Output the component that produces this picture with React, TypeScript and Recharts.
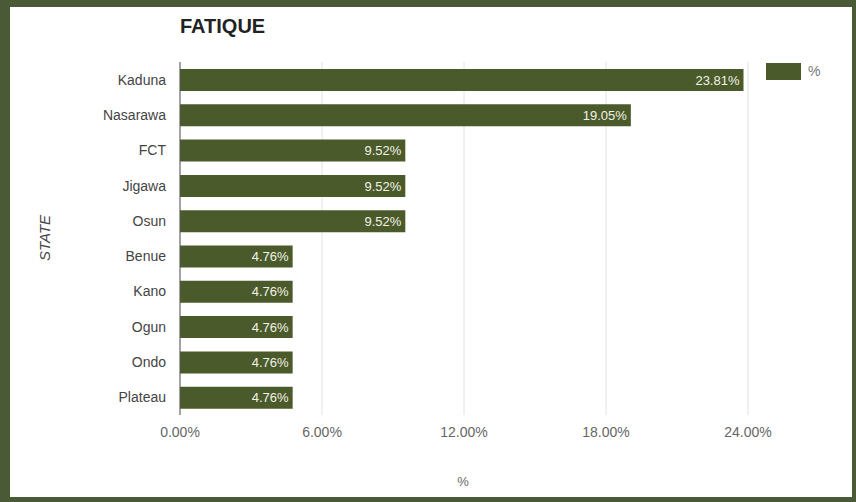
import { BarChart, Bar, XAxis, YAxis, CartesianGrid, LabelList } from 'recharts';

const states = ['Kaduna', 'Nasarawa', 'FCT', 'Jigawa', 'Osun', 'Benue', 'Kano', 'Ogun', 'Ondo', 'Plateau'];
const percents = [23.81, 19.05, 9.52, 9.52, 9.52, 4.76, 4.76, 4.76, 4.76, 4.76];
const xTicks = [0, 6, 12, 18, 24];

const BAR_COLOR = '#4b5a2b';
const BORDER = '#4a5936';
const FONT = 'Arial, "Liberation Sans", sans-serif';

const data = states.map((state, i) => ({ state, pct: percents[i] }));

const fmt = (v: number) => `${Number(v).toFixed(2)}%`;

export default function App() {
  return (
    <div style={{ position: 'absolute', left: 0, top: 0, width: 856, height: 502, background: BORDER, fontFamily: FONT }}>
      {/* white card */}
      <div style={{ position: 'absolute', left: 10, top: 7, width: 842, height: 490, background: '#ffffff' }} />

      <BarChart
        width={856}
        height={502}
        data={data}
        layout="vertical"
        margin={{ top: 62, right: 108, bottom: 0, left: 80 }}
        style={{ position: 'absolute', left: 0, top: 0 }}
      >
        <CartesianGrid horizontal={false} stroke="#e2e2e2" />
        <XAxis
          type="number"
          domain={[0, 24]}
          ticks={xTicks}
          tickFormatter={fmt}
          axisLine={false}
          tickLine={false}
          tickSize={0}
          tickMargin={12}
          height={87}
          tick={{ fill: '#666', fontSize: 14, fontFamily: FONT }}
        />
        <YAxis
          type="category"
          dataKey="state"
          width={100}
          axisLine={{ stroke: '#555' }}
          tickLine={false}
          tickSize={0}
          tickMargin={14}
          tick={{ fill: '#444', fontSize: 14, fontFamily: FONT }}
        />
        <Bar dataKey="pct" fill={BAR_COLOR} barSize={22} isAnimationActive={false}>
          <LabelList
            dataKey="pct"
            position="insideRight"
            offset={4}
            formatter={(v: any) => fmt(v)}
            style={{ fill: '#f2f2e6', fontSize: 13, fontFamily: FONT }}
          />
        </Bar>
      </BarChart>

      {/* title */}
      <div style={{ position: 'absolute', left: 180, top: 15, fontSize: 20, fontWeight: 'bold', color: '#222' }}>FATIQUE</div>

      {/* y axis title */}
      <div
        style={{
          position: 'absolute',
          left: 44,
          top: 238,
          transform: 'translate(-50%, -50%) rotate(-90deg)',
          fontSize: 15,
          fontStyle: 'italic',
          color: '#444',
          whiteSpace: 'nowrap',
        }}
      >
        STATE
      </div>

      {/* x axis title */}
      <div style={{ position: 'absolute', left: 463, top: 481, transform: 'translate(-50%, -50%)', fontSize: 13, color: '#666' }}>%</div>

      {/* legend */}
      <div style={{ position: 'absolute', left: 766, top: 63, width: 35, height: 17, background: BAR_COLOR }} />
      <div style={{ position: 'absolute', left: 808, top: 63, fontSize: 14, color: '#777' }}>%</div>
    </div>
  );
}
